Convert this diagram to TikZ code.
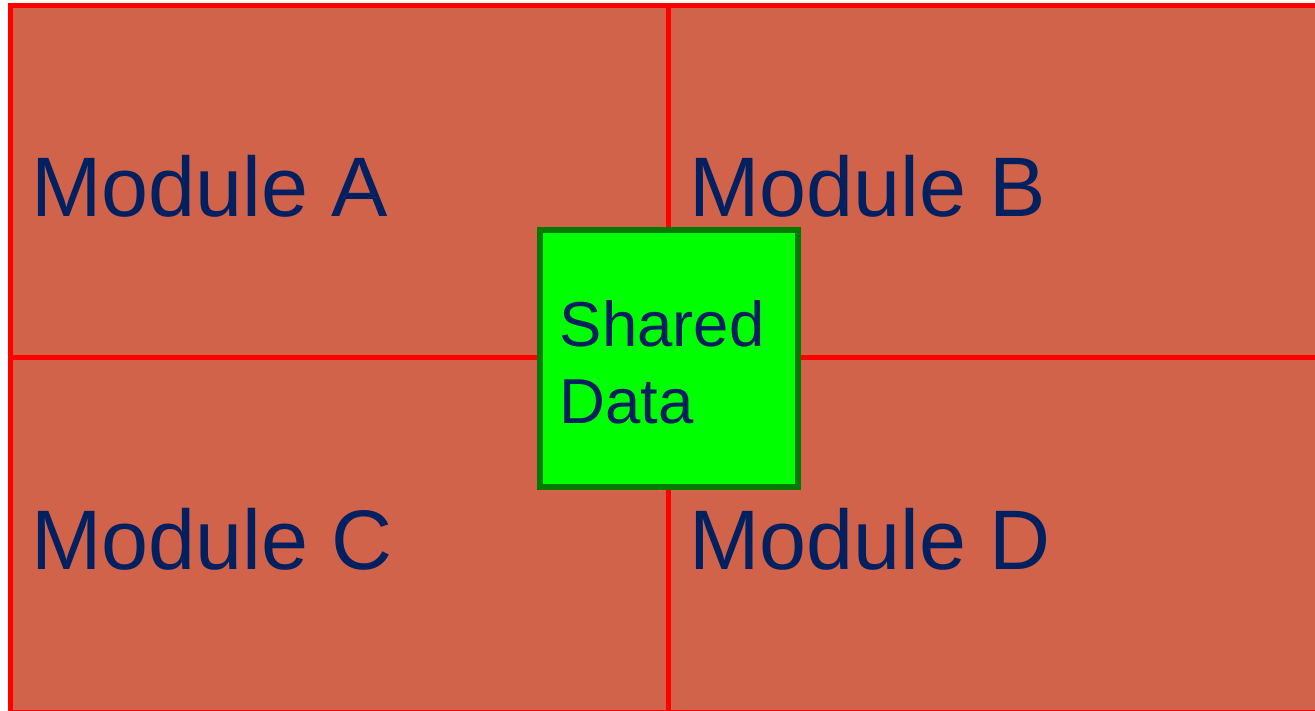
\documentclass[tikz,border=0pt]{standalone}
\usepackage{fontspec}
\setmainfont{Liberation Sans}
\definecolor{cellfill}{RGB}{209,99,74}
\definecolor{gridred}{RGB}{255,0,0}
\definecolor{labelnavy}{RGB}{0,32,96}
\definecolor{sharedfill}{RGB}{0,255,0}
\definecolor{sharededge}{RGB}{0,122,0}
\begin{document}
\begin{tikzpicture}[x=1pt,y=-1pt,
  cell/.style={draw=gridred, fill=cellfill, line width=5pt, rectangle,
    minimum width=658pt, minimum height=352pt, inner sep=0pt, outer sep=0pt, anchor=north west},
  lowcell/.style={cell, minimum height=355pt},
  modlabel/.style={anchor=base west, inner sep=0pt, text=labelnavy,
    font=\fontsize{84.5}{101}\selectfont},
  shared/.style={draw=sharededge, fill=sharedfill, line width=6pt, rectangle,
    minimum width=258pt, minimum height=257pt, inner sep=0pt},
  sharedlabel/.style={anchor=base west, inner sep=0pt, text=labelnavy,
    font=\fontsize{63.5}{76.6}\selectfont}]
  \useasboundingbox (0,0) rectangle (1315,710);
  \clip (0,0) rectangle (1315,710);
  \fill[white] (0,0) rectangle (1315,710);
  % four module cells
  \node[cell] (cellA) at (10,5) {};
  \node[cell] (cellB) at (668,5) {};
  \node[lowcell] (cellC) at (10,357) {};
  \node[lowcell] (cellD) at (668,357) {};
  % redraw the grid lines so every cell border shows on top
  \draw[gridred, line width=5pt] (cellA.north west) rectangle (cellD.south east);
  \draw[gridred, line width=5pt] (cellA.north east) -- (cellD.south west);
  \draw[gridred, line width=5pt] (cellA.south west) -- (cellD.north east);
  % module labels
  \node[modlabel] (labA) at (31,216) {Module A};
  \node[modlabel] (labB) at (689,216) {Module B};
  \node[modlabel] (labC) at (31,569) {Module C};
  \node[modlabel] (labD) at (689,569) {Module D};
  % shared data block over the centre of the grid
  \node[shared] (sharedbox) at (669,358.5) {};
  \node[sharedlabel] (sharedtop) at (559.5,346.7) {Shared};
  \node[sharedlabel] (sharedbot) at (559.5,423.3) {Data};
\end{tikzpicture}
\end{document}
